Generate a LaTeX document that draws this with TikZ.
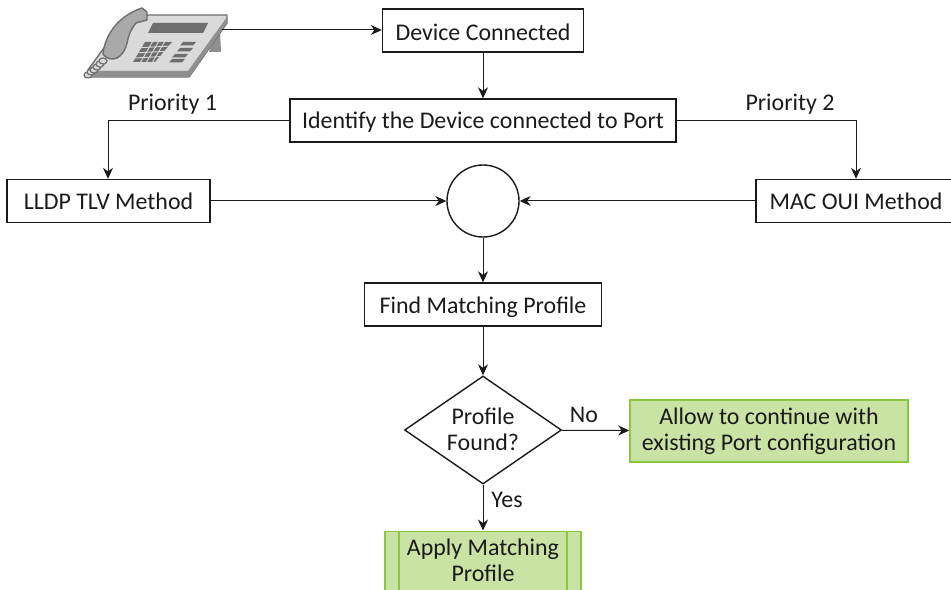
\documentclass[tikz,border=0pt]{standalone}
\usepackage{fontspec}
\setmainfont{Carlito}
\usetikzlibrary{arrows.meta,shapes.geometric}
\definecolor{ink}{HTML}{1A1A1A}
\definecolor{gfill}{HTML}{C8E3A4}
\definecolor{gline}{HTML}{8CC63F}
\definecolor{ph1}{HTML}{DADADA}
\definecolor{ph2}{HTML}{8F8F8F}
\definecolor{ph3}{HTML}{6E6E6E}
\definecolor{ph4}{HTML}{A9A9A9}
\tikzset{
  x=1bp,y=-1bp,
  tsize/.style={font=\fontsize{24}{26}\selectfont,text=ink},
  box/.style={draw=ink,line width=1.4bp,fill=white,minimum height=43bp,inner sep=0pt,align=center,tsize},
  base/.style={text height=#1,text depth=0bp},
  gbox/.style={draw=gline,line width=1.6bp,fill=gfill,inner sep=0pt,align=center,tsize},
  conn/.style={draw=ink,line width=1bp,-{Stealth[length=11bp,width=10bp]}},
  lab/.style={tsize,inner sep=0pt},
}
\begin{document}
\begin{tikzpicture}
\useasboundingbox (0,0) rectangle (951,590);
\clip (0,0) rectangle (951,590);
% phone
\fill[ph2] (216,30) -- (220,30) -- (221,52) -- (209,52) -- cycle;
\fill[ph1,draw=ph3,line width=1.4bp,line join=round] (148,15) -- (227,15) -- (227,23) -- (189,77) -- (90,77) -- (88,70) -- (124,20) -- cycle;
\fill[ph2] (92,77) -- (189,77) -- (227,23) -- (227,17) -- (188,71) -- (92,71) -- cycle;
\fill[ph4,draw=ph3,line width=1.4bp,line join=round] (103,54) .. controls (105,35) and (118,16) .. (142,8) -- (147,12) -- (147,20) -- (136,23) .. controls (130,30) and (128,38) .. (127,43) .. controls (126,50) and (121,56) .. (117,58) .. controls (112,60) and (106,59) .. (103,54) -- cycle;
\fill[ph3] (153,23) -- (208,23) -- (203,33) -- (148,33) -- cycle;
\fill[ph3] (145,42) -- (172,42) -- (155,62) -- (133,62) -- cycle;
\foreach \yy in {47,52,57} \draw[ph1,line width=.9bp] (134,\yy+1) -- (172,\yy-1);
\foreach \xx in {0,1,2} \draw[ph1,line width=.9bp] (153+\xx*6,41) -- (140+\xx*6,63);
\foreach \yy/\xx in {42/183,48/180,54/175,59/172} \fill[ph3] (\xx,\yy) -- (\xx+13,\yy) -- (\xx+10,\yy+3.5) -- (\xx-3,\yy+3.5) -- cycle;
\foreach \xa/\ya in {88/75,91/72,94/70,97/67,100/64,103/61} \draw[ph3,line width=1.2bp,fill=ph1] (\xa,\ya) ellipse [x radius=4bp,y radius=3bp];
\coordinate (phone) at (222,30);
% nodes
\node[box,base=21bp,minimum width=201bp] (dev) at (483,30.5) {Device Connected};
\node[box,base=17bp,minimum width=386bp] (idn) at (483,120.5) {Identify the Device connected to Port};
\node[box,minimum width=203bp] (lldp) at (108.5,201) {LLDP TLV Method};
\node[box,minimum width=200bp] (mac) at (856,201) {MAC OUI Method};
\node[draw=ink,line width=1.4bp,circle,fill=white,minimum size=72bp,inner sep=0pt] (mrg) at (483,201) {};
\node[box,base=17bp,minimum width=237bp] (find) at (483,304.5) {Find Matching Profile};
\node[draw=ink,line width=1.4bp,diamond,aspect=1.45,minimum width=157bp,minimum height=108bp,inner sep=0pt] (dec) at (483,430) {};
\node[align=center,inner sep=0pt,tsize] (dect) at (483,429.5) {Profile\\Found?};
\node[gbox,minimum width=278bp,minimum height=62bp] (allow) at (769,431) {Allow to continue with\\existing Port configuration};
\node[gbox,minimum width=196bp,minimum height=84bp,anchor=north] (apply) at (483,530.5) {};
\draw[gline,line width=1.6bp] (399,530.5) -- (399,590) (567,530.5) -- (567,590);
\node[align=center,inner sep=0pt,tsize,anchor=north] (applyt) at (483,538.5) {Apply Matching\\Profile};
% connectors
\draw[conn] (phone) -- (dev.west |- phone);
\draw[conn] (dev) -- (idn);
\draw[conn] (idn.west) -| (lldp.north -| 108,0);
\draw[conn] (idn.east) -| (mac.north -| 856,0);
\draw[conn] (lldp) -- (mrg);
\draw[conn] (mac) -- (mrg);
\draw[conn] (mrg) -- (find);
\draw[conn] (find) -- (dec);
\draw[conn] (dec) -- (allow);
\draw[conn] (dec) -- (apply);
% labels
\node[lab] (p1) at (172.5,104.5) {Priority 1};
\node[lab] (p2) at (790,104.5) {Priority 2};
\node[lab] (no) at (584,415) {No};
\node[lab] (yes) at (507,500) {Yes};
\end{tikzpicture}
\end{document}
